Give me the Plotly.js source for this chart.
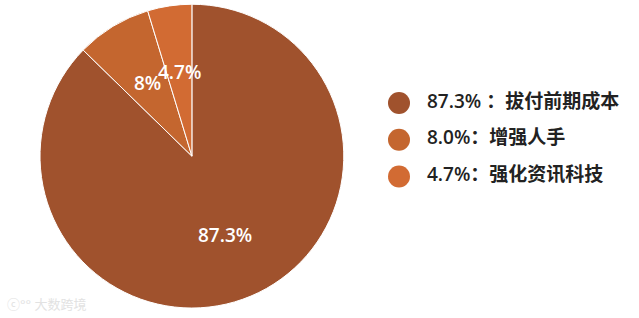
<!DOCTYPE html>
<html>
<head>
<meta charset="utf-8">
<script src="https://cdn.plot.ly/plotly-3.0.1.min.js"></script>
<style>html,body{margin:0;padding:0;background:#fff;}#chart{width:639px;height:318px;}</style>
</head>
<body>
<div id="chart"></div>
<script>
var categories = ["拔付前期成本", "增强人手", "强化资讯科技"];
var values = [87.3, 8.0, 4.7];
var legendLabels = ["87.3% ：拔付前期成本", "8.0%：增强人手", "4.7%：强化资讯科技"];
var colors = ["#A0522D", "#C4662F", "#D26B33"];

var W = 639, H = 318;
var pieDomX = [0.0626, 0.538], pieDomY = [0.031, 0.987];
var FONT = "'Open Sans', 'Noto Sans CJK SC', sans-serif";
var legendTextGap = 28; // px from marker centre to text start

var pie = {
  type: "pie",
  values: values,
  labels: categories,
  sort: false,
  direction: "clockwise",
  rotation: 0,
  marker: {colors: colors, line: {color: "#fff", width: 1}},
  textinfo: "none",
  hoverinfo: "label+percent",
  showlegend: false,
  domain: {x: pieDomX, y: pieDomY}
};

var legendMarkers = {
  type: "scatter",
  mode: "markers",
  x: values.map(function(){return 0;}),
  y: categories,
  marker: {color: colors, size: 22, line: {width: 0}},
  showlegend: false,
  hoverinfo: "skip",
  cliponaxis: false
};

var legendTexts = {
  type: "scatter",
  mode: "text",
  x: values.map(function(){return legendTextGap;}),
  y: categories,
  text: legendLabels,
  textposition: "middle right",
  textfont: {family: FONT, size: 19, color: "#222", weight: 600},
  showlegend: false,
  hoverinfo: "skip",
  cliponaxis: false
};

// percentage labels placed along each slice bisector
var total = values.reduce(function(a,b){return a+b;},0);
var cx = (pieDomX[0]+pieDomX[1])/2*W, cy = (1-(pieDomY[0]+pieDomY[1])/2)*H;
var R = Math.min((pieDomX[1]-pieDomX[0])*W, (pieDomY[1]-pieDomY[0])*H)/2;
var annotations = [];
var cum = 0;
values.forEach(function(v){
  var mid = (cum + v/2)/total*2*Math.PI;
  cum += v;
  var r = 0.56*R;
  var px = cx + r*Math.sin(mid), py = cy - r*Math.cos(mid);
  annotations.push({
    text: String(+(v/total*100).toFixed(1)) + "%",
    x: px/W, y: 1-py/H, xref: "paper", yref: "paper",
    showarrow: false, xanchor: "center", yanchor: "middle",
    font: {family: FONT, size: 19, color: "#fff", weight: 600}
  });
});
annotations.push({
  text: "ⓒ°° 大数跨境", x: 0.008, y: 0.01, xref: "paper", yref: "paper",
  xanchor: "left", yanchor: "bottom", showarrow: false,
  font: {family: FONT, size: 13, color: "#e2e2e2"}
});

var xDomain = [0.6, 1];
var xPx0 = xDomain[0]*W, xPxW = (xDomain[1]-xDomain[0])*W;
var markerPx = 399;

var layout = {
  width: W, height: H,
  margin: {l: 0, r: 0, t: 0, b: 0},
  paper_bgcolor: "#fff", plot_bgcolor: "rgba(0,0,0,0)",
  xaxis: {domain: xDomain, range: [xPx0 - markerPx, xPx0 - markerPx + xPxW], visible: false, fixedrange: true},
  yaxis: {domain: [0, 1], range: [5.85, -2.80], visible: false, fixedrange: true, type: "category"},
  annotations: annotations,
  font: {family: FONT}
};

Plotly.newPlot("chart", [pie, legendMarkers, legendTexts], layout, {displayModeBar: false, staticPlot: true});
</script>
</body>
</html>
